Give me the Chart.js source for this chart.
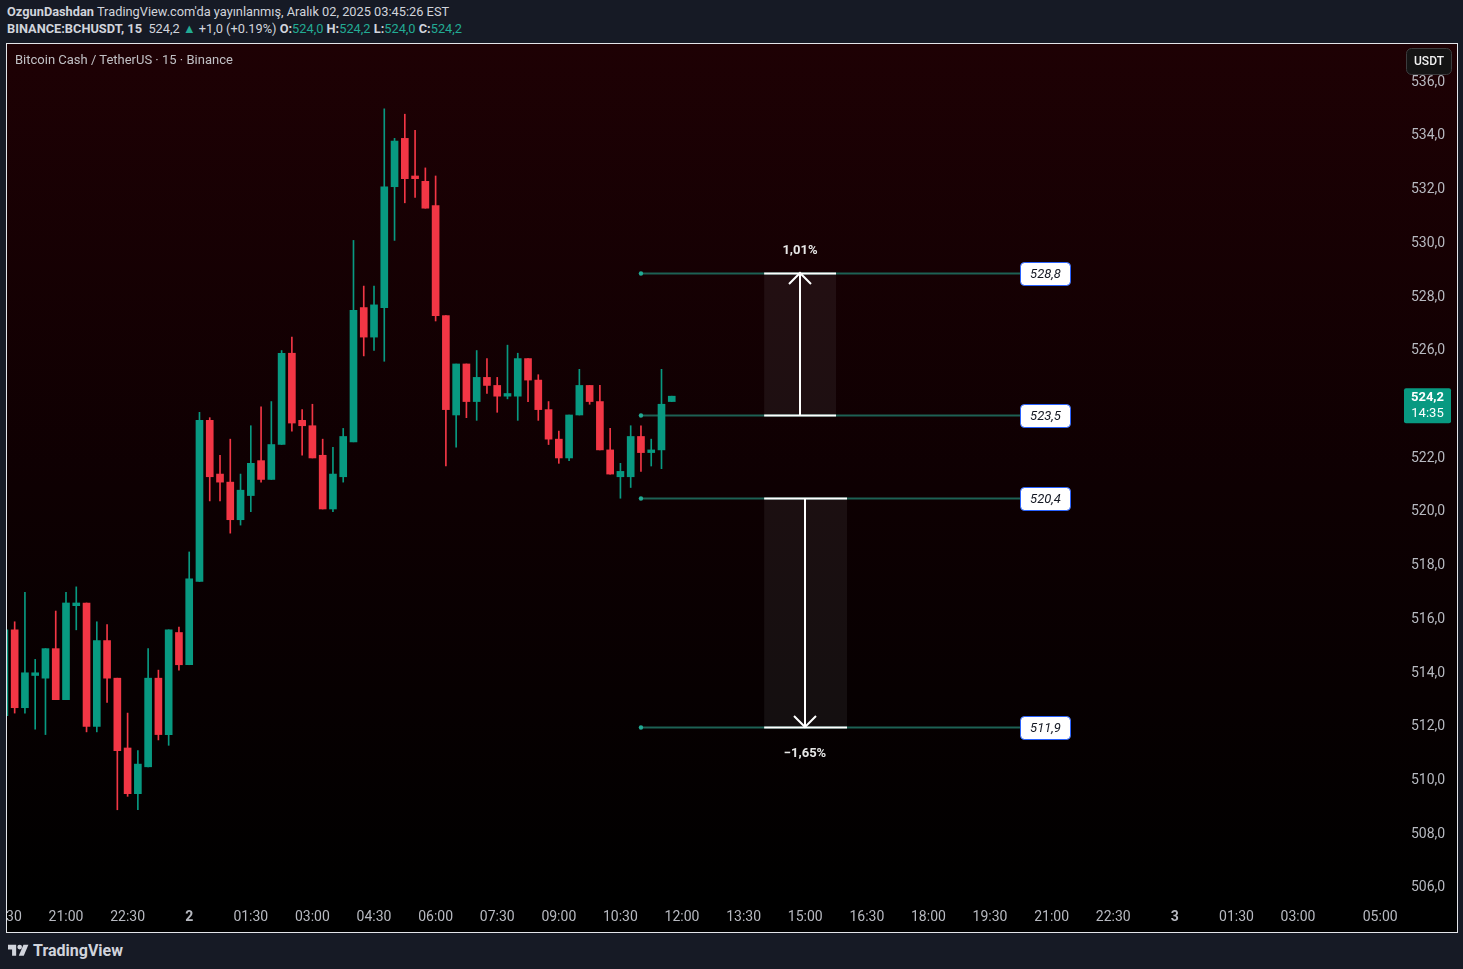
<!DOCTYPE html>
<html>
<head>
<meta charset="utf-8">
<script src="https://cdn.jsdelivr.net/npm/chart.js@4.4.1/dist/chart.umd.min.js"></script>
<style>
html,body{margin:0;padding:0;width:1463px;height:969px;overflow:hidden;background:#161a25;font-family:Roboto,"Noto Sans",sans-serif;}
.hdr{position:absolute;left:7px;font-size:12.8px;color:#d1d4dc;white-space:nowrap;line-height:16px;}
#h1{top:4px;}
#h2{top:21px;}
.hdr b{font-weight:700;color:#d1d4dc;}
.up{color:#22ab94;}
#frame{position:absolute;left:6px;top:43px;width:1450px;height:888px;border:1px solid #e3e5ea;}
#wrap{position:absolute;left:7px;top:44px;width:1450px;height:888px;background:linear-gradient(180deg,#1e0104 0%,#0e0002 50%,#000000 96%);}
#title{position:absolute;left:15px;top:52px;font-size:13px;color:#c0c0c4;white-space:nowrap;line-height:16px;}
#foot{position:absolute;left:8px;top:941px;height:18px;display:flex;align-items:center;color:#d1d4dc;font-weight:700;font-size:16px;}
#foot svg{margin-right:4px;}
canvas{position:absolute;left:0;top:0;}
</style>
</head>
<body>
<div id="h1" class="hdr"><b>OzgunDashdan</b> TradingView.com'da yayınlanmış, Aralık 02, 2025 03:45:26 EST</div>
<div id="h2" class="hdr"><b>BINANCE:BCHUSDT, 15</b>&nbsp; 524,2 <span class="up">▲</span> +1,0 (+0.19%) <b>O:</b><span class="up">524,0</span> <b>H:</b><span class="up">524,2</span> <b>L:</b><span class="up">524,0</span> <b>C:</b><span class="up">524,2</span></div>
<div id="frame"></div>
<div id="wrap"><canvas id="c" width="1450" height="888"></canvas></div>
<div id="title">Bitcoin Cash / TetherUS · 15 · Binance</div>
<div id="foot"><svg width="21" height="14" viewBox="0 0 36 24"><path d="M14 22H7V11H0V3h14v19z" fill="#d1d4dc"/><circle cx="20" cy="7" r="4" fill="#d1d4dc"/><path d="M27 22h-8.5l8-19h8.5z" fill="#d1d4dc"/></svg>TradingView</div>
<script>
// ---- data ----
const firstSlot = -6; // 15-minute slots, slot 0 = 21:00
const opens  = [512.3,515.5,512.6,513.8,513.7,514.8,512.9,516.4,516.5,511.9,515.1,513.7,511.1,509.4,510.4,513.7,511.6,515.4,514.2,517.3,523.3,521.3,521.0,519.6,520.5,521.8,521.1,522.4,525.8,523.3,523.1,522.0,520.0,521.2,522.5,527.5,526.4,527.5,532.0,533.8,532.4,532.2,531.3,527.2,523.5,525.4,524.0,524.9,524.6,524.2,524.2,525.6,524.8,523.7,522.6,521.9,523.5,524.6,524.0,522.2,521.2,521.2,522.7,522.1,522.2,524.0];
const highs  = [515.6,515.8,516.9,514.4,514.8,516.2,516.9,517.1,516.5,515.8,515.7,513.7,512.4,511.0,514.8,514.0,515.5,515.6,518.4,523.6,523.4,522.0,522.6,521.3,523.1,523.8,524.0,525.9,526.4,523.7,523.9,522.6,522.3,523.0,530.0,528.3,528.3,534.9,533.8,534.7,534.1,532.7,532.4,527.2,525.4,525.4,525.9,525.6,524.9,526.1,525.8,525.6,525.0,524.0,522.9,523.5,525.2,524.6,524.6,523.0,521.7,523.1,523.1,522.6,525.2,524.2];
const lows   = [512.2,512.4,512.4,511.8,511.6,512.9,512.9,515.5,511.7,511.7,512.8,508.8,509.3,508.8,510.4,511.4,511.2,514.0,514.2,517.3,520.3,520.3,519.1,519.4,519.9,521.0,521.1,522.4,522.9,522.0,521.9,520.0,519.9,521.0,522.5,525.7,525.9,525.5,530.0,531.4,531.6,531.2,527.0,521.6,522.3,523.4,523.3,524.3,523.6,524.1,523.3,524.0,523.3,522.4,521.7,521.8,523.5,523.9,522.2,521.3,520.4,520.8,521.4,521.6,521.5,524.0];
const closes = [515.5,512.6,513.9,513.9,514.8,512.9,516.5,516.5,511.9,515.1,513.7,511.0,509.4,510.5,513.7,511.6,515.5,514.2,517.4,523.3,521.2,521.0,519.6,520.7,521.7,521.1,522.4,525.8,523.2,523.1,521.9,520.0,521.3,522.7,527.4,526.4,527.6,532.0,533.7,532.3,532.3,531.2,527.2,523.7,525.4,524.0,524.9,524.6,524.2,524.3,525.6,524.8,523.7,522.6,521.9,523.5,524.6,524.0,522.2,521.3,521.4,522.7,522.1,522.2,523.9,524.2];

const timeTickSlots  = [-6,0,6,12,18,24,30,36,42,48,54,60,66,72,78,84,90,96,102,108,114,120,128];
const timeTickLabels = ['19:30','21:00','22:30','2','01:30','03:00','04:30','06:00','07:30','09:00','10:30','12:00','13:30','15:00','16:30','18:00','19:30','21:00','22:30','3','01:30','03:00','05:00'];
const dayLabels = ['2','3'];

// price-range drawings
const rangeFrom   = [523.5, 520.4];
const rangeTo     = [528.8, 511.9];
const rangeText   = ['1,01%', '\u22121,65%'];
const rangeLeft   = [68, 68];
const rangeRight  = [75, 76.07];
const rangeArrow  = [71.5, 72];
const levelPrices = [528.8, 523.5, 520.4, 511.9];
const levelTexts  = ['528,8', '523,5', '520,4', '511,9'];
const levelStartSlot = 56;
const levelLabelSlot = 92.92;

const lastPrice = 524.2;
const lastPriceText = '524,2';
const countdownText = '14:35';
const currencyText = 'USDT';

// ---- build ----
const UP = '#089981', DOWN = '#f23645';
const slots = opens.map((_, k) => firstSlot + k);
const colors = opens.map((o, k) => closes[k] >= o ? UP : DOWN);
const fmt = v => v.toFixed(1).replace('.', ',');
const zeroPad = s => { s.paddingLeft = 0; s.paddingRight = 0; s.paddingTop = 0; s.paddingBottom = 0; };

const rangePlugin = {
  id: 'ranges',
  beforeDatasetsDraw(chart) {
    const {ctx, scales: {x, y}} = chart;
    ctx.save();
    for (let r = 0; r < rangeFrom.length; r++) {
      const xl = x.getPixelForValue(rangeLeft[r]), xr = x.getPixelForValue(rangeRight[r]);
      const y1 = y.getPixelForValue(rangeFrom[r]), y2 = y.getPixelForValue(rangeTo[r]);
      ctx.fillStyle = 'rgba(215,215,225,0.07)';
      ctx.fillRect(xl, Math.min(y1, y2), xr - xl, Math.abs(y2 - y1));
    }
    const xs = x.getPixelForValue(levelStartSlot), xe = x.getPixelForValue(levelLabelSlot);
    for (let i = 0; i < levelPrices.length; i++) {
      const py = Math.round(y.getPixelForValue(levelPrices[i])) + 0.5;
      ctx.strokeStyle = '#1d6154';
      ctx.lineWidth = 2;
      ctx.beginPath(); ctx.moveTo(xs, py); ctx.lineTo(xe, py); ctx.stroke();
    }
    ctx.restore();
  },
  afterDatasetsDraw(chart) {
    const {ctx, scales: {x, y}} = chart;
    ctx.save();
    const xs = x.getPixelForValue(levelStartSlot), xe = x.getPixelForValue(levelLabelSlot);
    for (let i = 0; i < levelPrices.length; i++) {
      const py = Math.round(y.getPixelForValue(levelPrices[i])) + 0.5;
      ctx.fillStyle = '#22ab94';
      ctx.beginPath(); ctx.arc(xs, py, 2.2, 0, Math.PI * 2); ctx.fill();
      const bw = 50, bh = 23;
      ctx.fillStyle = '#ffffff';
      ctx.strokeStyle = '#2962ff';
      ctx.lineWidth = 1;
      ctx.beginPath(); ctx.roundRect(Math.round(xe) + 0.5, Math.round(py - bh / 2) + 0.5, bw, bh, 4); ctx.fill(); ctx.stroke();
      ctx.fillStyle = '#131722';
      ctx.font = 'italic 13px Roboto, "Noto Sans", sans-serif';
      ctx.textAlign = 'center'; ctx.textBaseline = 'middle';
      ctx.fillText(levelTexts[i], xe + bw / 2 + 0.5, py + 1);
    }
    for (let r = 0; r < rangeFrom.length; r++) {
      const xl = x.getPixelForValue(rangeLeft[r]), xr = x.getPixelForValue(rangeRight[r]);
      const y1 = Math.round(y.getPixelForValue(rangeFrom[r])), y2 = Math.round(y.getPixelForValue(rangeTo[r]));
      const ax = Math.round(x.getPixelForValue(rangeArrow[r]));
      ctx.strokeStyle = '#ffffff'; ctx.lineWidth = 2;
      ctx.beginPath();
      ctx.moveTo(xl, y1 + 0.5); ctx.lineTo(xr, y1 + 0.5);
      ctx.moveTo(xl, y2 + 0.5); ctx.lineTo(xr, y2 + 0.5);
      ctx.stroke();
      ctx.beginPath();
      ctx.moveTo(ax, y1); ctx.lineTo(ax, y2);
      const d = y2 < y1 ? 1 : -1;
      ctx.moveTo(ax - 11, y2 + d * 11); ctx.lineTo(ax, y2); ctx.lineTo(ax + 11, y2 + d * 11);
      ctx.stroke();
      ctx.fillStyle = '#e6e6e6';
      ctx.font = 'bold 13px Roboto, "Noto Sans", sans-serif';
      ctx.textAlign = 'center'; ctx.textBaseline = 'middle';
      ctx.fillText(rangeText[r], ax, y2 < y1 ? y2 - 22 : y2 + 27);
    }
    ctx.restore();
  },
  afterDraw(chart) {
    const {ctx, scales: {y}, chartArea} = chart;
    ctx.save();
    const py = y.getPixelForValue(lastPrice);
    const bx = chartArea.right + 4, bw = 47;
    ctx.fillStyle = '#089981';
    ctx.beginPath(); ctx.roundRect(bx, py - 8, bw, 35, 2); ctx.fill();
    ctx.fillStyle = '#ffffff';
    ctx.textAlign = 'center'; ctx.textBaseline = 'middle';
    ctx.font = 'bold 13px Roboto, "Noto Sans", sans-serif';
    ctx.fillText(lastPriceText, bx + bw / 2, py + 2);
    ctx.font = '13px Roboto, "Noto Sans", sans-serif';
    ctx.fillText(countdownText, bx + bw / 2, py + 18);
    const ux = chartArea.right + 6, uy = 4, uw = 45, uh = 26;
    ctx.fillStyle = '#141414';
    ctx.strokeStyle = '#3c3c3e';
    ctx.lineWidth = 1;
    ctx.beginPath(); ctx.roundRect(ux + 0.5, uy + 0.5, uw, uh, 5); ctx.fill(); ctx.stroke();
    ctx.fillStyle = '#f0f0f0';
    ctx.font = '500 12px Roboto, "Noto Sans", sans-serif';
    ctx.fillText(currencyText, ux + uw / 2 + 0.5, uy + uh / 2 + 1);
    ctx.restore();
  }
};

new Chart(document.getElementById('c'), {
  type: 'bar',
  data: {
    datasets: [
      {
        label: 'wick',
        data: slots.map((s, k) => ({x: s, y: [lows[k], highs[k]]})),
        backgroundColor: colors,
        barThickness: 1,
        grouped: false,
        order: 2
      },
      {
        label: 'body',
        data: slots.map((s, k) => ({x: s, y: [opens[k], closes[k]]})),
        backgroundColor: colors,
        barThickness: 7,
        minBarLength: 2,
        grouped: false,
        order: 1
      }
    ]
  },
  options: {
    responsive: false,
    animation: false,
    devicePixelRatio: 1,
    layout: {padding: 0, autoPadding: false},
    plugins: {legend: {display: false}, tooltip: {enabled: false}},
    scales: {
      x: {
        type: 'linear',
        min: -5.7466,
        max: 129.93,
        offset: false,
        grid: {display: false, drawTicks: false},
        border: {display: false},
        afterBuildTicks: s => { s.ticks = timeTickSlots.map(v => ({value: v})); },
        afterFit: s => { s.height = 32; zeroPad(s); },
        ticks: {
          autoSkip: false,
          maxRotation: 0,
          padding: 9,
          color: '#b7b9c0',
          callback: (v, i) => timeTickLabels[i],
          font: ctx => ({family: 'Roboto', size: 14, weight: (ctx.tick && dayLabels.includes(timeTickLabels[ctx.index])) ? 'bold' : 'normal'})
        }
      },
      y: {
        type: 'linear',
        position: 'right',
        min: 505.44,
        max: 537.314,
        grid: {display: false, drawTicks: false},
        border: {display: false},
        afterFit: s => { s.width = 57; zeroPad(s); },
        ticks: {
          stepSize: 2,
          includeBounds: false,
          crossAlign: 'near',
          padding: 11,
          labelOffset: 3,
          color: '#b7b9c0',
          font: {family: 'Roboto', size: 14},
          callback: v => fmt(v)
        }
      }
    }
  },
  plugins: [rangePlugin]
});
</script>
</body>
</html>
